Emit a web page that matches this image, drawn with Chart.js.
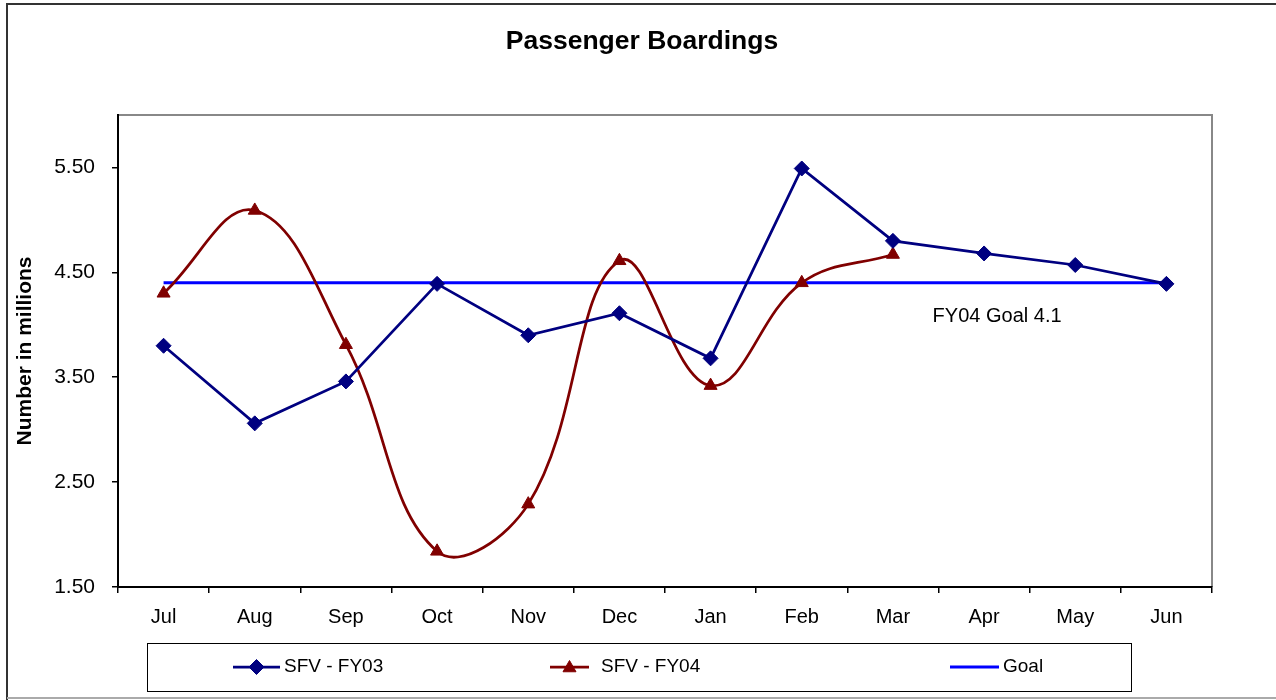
<!DOCTYPE html>
<html>
<head>
<meta charset="utf-8">
<title>Passenger Boardings</title>
<script src="https://cdn.jsdelivr.net/npm/chart.js@4.4.1/dist/chart.umd.min.js"></script>
<style>
  html, body { margin: 0; padding: 0; background: #fff; }
  #wrap { width: 1276px; height: 700px; position: relative; }
</style>
</head>
<body>
<div id="wrap"><canvas id="boardingsChart" width="1276" height="700"></canvas></div>
<script>
// data
const months = ["Jul", "Aug", "Sep", "Oct", "Nov", "Dec", "Jan", "Feb", "Mar", "Apr", "May", "Jun"];
const fy03 = [3.80, 3.06, 3.46, 4.39, 3.90, 4.11, 3.68, 5.49, 4.80, 4.68, 4.57, 4.39];
const fy04 = [4.30, 5.09, 3.81, 1.84, 2.29, 4.61, 3.42, 4.40, 4.67, null, null, null];
const goal = [4.40, 4.40, 4.40, 4.40, 4.40, 4.40, 4.40, 4.40, 4.40, 4.40, 4.40, 4.40];
const yTicks = [1.5, 2.5, 3.5, 4.5, 5.5];
const chartTitle = "Passenger Boardings";
const goalNote = "FY04 Goal 4.1";

const FONT = "'Liberation Sans', Arial, sans-serif";
Chart.defaults.font.family = FONT;
Chart.defaults.color = "#000";

// frame, title, plot box, goal note and legend box
const decorations = {
  id: "decorations",
  beforeDraw(chart) {
    const c = chart.ctx;
    const a = chart.chartArea;
    c.save();
    c.fillStyle = "#fff";
    c.fillRect(0, 0, chart.width, chart.height);
    // outer frame
    c.lineWidth = 2;
    c.strokeStyle = "#333";
    c.beginPath();
    c.moveTo(7, chart.height);
    c.lineTo(7, 4);
    c.lineTo(chart.width, 4);
    c.stroke();
    c.strokeStyle = "#aaa";
    c.beginPath();
    c.moveTo(7, 698);
    c.lineTo(chart.width, 698);
    c.stroke();
    // plot box top/right in grey
    c.strokeStyle = "#888";
    c.beginPath();
    c.moveTo(a.left, a.top);
    c.lineTo(a.right, a.top);
    c.lineTo(a.right, a.bottom);
    c.stroke();
    // title
    c.fillStyle = "#000";
    c.font = "bold 26.5px " + FONT;
    c.textAlign = "center";
    c.textBaseline = "middle";
    c.fillText(chartTitle, 642, 42);
    c.restore();
  },
  afterDraw(chart) {
    const c = chart.ctx;
    const x = chart.scales.x;
    const y = chart.scales.y;
    c.save();
    // goal note
    c.font = "20px " + FONT;
    c.fillStyle = "#000";
    c.textAlign = "center";
    c.textBaseline = "middle";
    c.fillText(goalNote, x.getPixelForValue(9) + 13, y.getPixelForValue(4.08));

    // legend
    c.strokeStyle = "#000";
    c.lineWidth = 1;
    c.strokeRect(147.5, 643.5, 984, 48);
    const ly = 667;
    const items = [
      { ds: 0, x1: 233, x2: 280, tx: 284 },
      { ds: 1, x1: 550, x2: 589, tx: 601 },
      { ds: 2, x1: 950, x2: 999, tx: 1003 }
    ];
    c.font = "19px " + FONT;
    c.textAlign = "left";
    items.forEach(it => {
      const ds = chart.data.datasets[it.ds];
      c.strokeStyle = ds.borderColor;
      c.lineWidth = ds.borderWidth;
      c.beginPath();
      c.moveTo(it.x1, ly);
      c.lineTo(it.x2, ly);
      c.stroke();
      if (ds.pointRadius > 0) {
        c.fillStyle = ds.pointBackgroundColor;
        c.strokeStyle = ds.pointBorderColor;
        c.lineWidth = 1;
        Chart.helpers.drawPoint(c, { pointStyle: ds.pointStyle, radius: ds.pointRadius, borderWidth: 1 },
          (it.x1 + it.x2) / 2, ly + (ds.pointStyle === "triangle" ? 1 : 0));
      }
      c.fillStyle = "#000";
      c.fillText(ds.label, it.tx, ly);
    });
    c.restore();
  }
};

const ctx = document.getElementById("boardingsChart").getContext("2d");
new Chart(ctx, {
  type: "line",
  data: {
    labels: months,
    datasets: [
      {
        label: "SFV - FY03",
        data: fy03,
        borderColor: "#000080",
        backgroundColor: "#000080",
        pointBackgroundColor: "#000080",
        pointBorderColor: "#000080",
        borderWidth: 2.75,
        pointStyle: "rectRot",
        pointRadius: 7.5,
        pointBorderWidth: 1,
        tension: 0,
        order: 1
      },
      {
        label: "SFV - FY04",
        data: fy04,
        borderColor: "#800000",
        backgroundColor: "#800000",
        pointBackgroundColor: "#800000",
        pointBorderColor: "#800000",
        borderWidth: 2.75,
        pointStyle: "triangle",
        pointRadius: 7.5,
        pointBorderWidth: 1,
        tension: 0.4,
        spanGaps: false,
        order: 2
      },
      {
        label: "Goal",
        data: goal,
        borderColor: "#0000FF",
        backgroundColor: "#0000FF",
        borderWidth: 3,
        pointRadius: 0,
        tension: 0,
        order: 3
      }
    ]
  },
  options: {
    responsive: false,
    animation: false,
    layout: { padding: { left: 8, top: 115, right: 64, bottom: 0 } },
    scales: {
      x: {
        type: "category",
        offset: true,
        afterFit: s => { s.height = 113; },
        grid: {
          offset: true,
          drawOnChartArea: false,
          drawTicks: true,
          tickLength: 6,
          color: "#000",
          lineWidth: 1.5
        },
        border: { display: true, color: "#000", width: 2 },
        ticks: {
          padding: 12,
          font: { size: 20 },
          color: "#000",
          autoSkip: false,
          maxRotation: 0
        }
      },
      y: {
        min: 1.5,
        max: 6.0,
        afterFit: s => { s.width = 110; },
        afterBuildTicks: s => { s.ticks = yTicks.map(v => ({ value: v })); },
        grid: {
          drawOnChartArea: false,
          drawTicks: true,
          tickLength: 6,
          color: "#000",
          lineWidth: 1.5
        },
        border: { display: true, color: "#000", width: 2 },
        ticks: {
          padding: 17,
          font: { size: 21 },
          color: "#000",
          callback: v => Number(v).toFixed(2)
        },
        title: {
          display: true,
          text: "Number in millions",
          font: { size: 21, weight: "bold", lineHeight: 1.2 },
          color: "#000",
          padding: { top: 5, bottom: 0 }
        }
      }
    },
    plugins: {
      legend: { display: false },
      tooltip: { enabled: false },
      title: { display: false }
    }
  },
  plugins: [decorations]
});
</script>
</body>
</html>
